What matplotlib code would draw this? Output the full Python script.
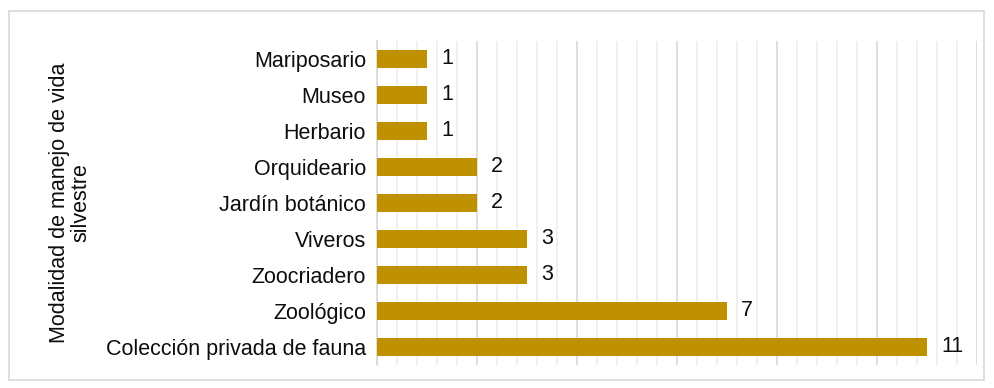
import matplotlib.pyplot as plt
from matplotlib.patches import Rectangle
from matplotlib.ticker import MultipleLocator

plt.rcParams['font.family'] = ['Liberation Sans', 'DejaVu Sans']

# Categorías de abajo hacia arriba
categorias = ['Colección privada de fauna', 'Zoológico', 'Zoocriadero', 'Viveros',
              'Jardín botánico', 'Orquideario', 'Herbario', 'Museo', 'Mariposario']
valores = [11, 7, 3, 3, 2, 2, 1, 1, 1]

color_barra = '#BF9000'
color_texto = '#0d0d0d'
fs = 15.5

fig = plt.figure(figsize=(9.94, 3.88), dpi=100)
ax = fig.add_axes([377 / 994, 23 / 388, 600 / 994, 324 / 388])

y = range(len(categorias))
ax.barh(y, valores, height=0.5, color=color_barra, zorder=3)

for i, v in enumerate(valores):
    ax.text(v + 0.28, i, str(v), va='center', ha='left', fontsize=fs, color=color_texto)

ax.set_xlim(0, 12)
ax.set_ylim(-0.5, len(categorias) - 0.5)
ax.set_yticks(list(y))
ax.set_yticklabels(categorias, fontsize=fs, color=color_texto)
ax.tick_params(axis='y', length=0, pad=8)
ax.tick_params(axis='x', which='both', length=0, labelbottom=False)

ax.xaxis.set_major_locator(MultipleLocator(2))
ax.xaxis.set_minor_locator(MultipleLocator(0.4))
ax.grid(axis='x', which='major', color='#D9D9D9', linewidth=1.2, zorder=0)
ax.grid(axis='x', which='minor', color='#EDEDED', linewidth=1.2, zorder=0)

for s in ['top', 'right', 'bottom']:
    ax.spines[s].set_visible(False)
ax.spines['left'].set_color('#D9D9D9')
ax.spines['left'].set_linewidth(1.2)

fig.text(70 / 994, 185 / 388, 'Modalidad de manejo de vida\nsilvestre', rotation=90,
         ha='center', va='center', fontsize=fs, color=color_texto,
         multialignment='center', linespacing=1.0)

# Marco exterior del gráfico
fig.patches.append(Rectangle((9 / 994, 8 / 388), 975 / 994, 369 / 388,
                             transform=fig.transFigure, fill=False,
                             edgecolor='#D9D9D9', linewidth=1.2))

fig.savefig('out.png', dpi=100)
